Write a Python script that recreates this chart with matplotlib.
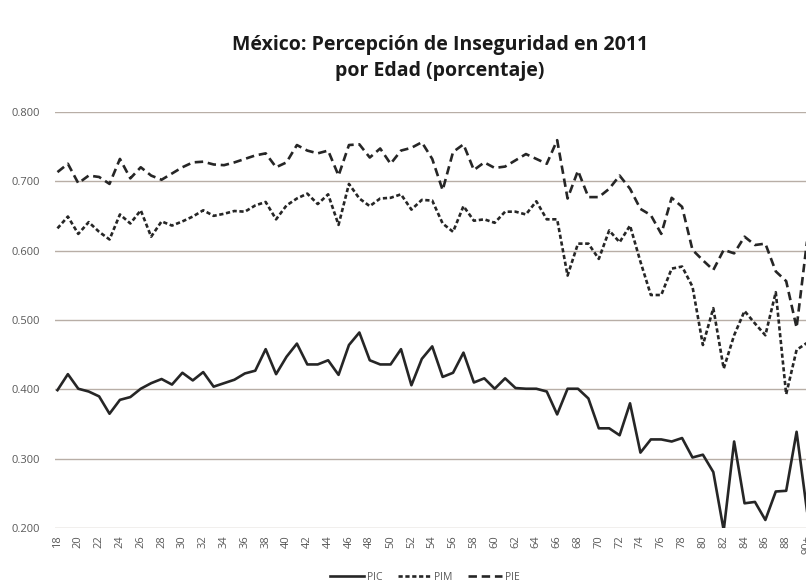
import matplotlib
matplotlib.use('Agg')
import matplotlib.pyplot as plt
import numpy as np

# Edades 18 .. 89 y "90+"
edades = [str(e) for e in range(18, 90)] + ['90+']

pic = [0.399, 0.422, 0.401, 0.397, 0.390, 0.365, 0.385, 0.389, 0.401, 0.409,
       0.415, 0.407, 0.424, 0.413, 0.425, 0.404, 0.409, 0.414, 0.423, 0.427,
       0.458, 0.422, 0.447, 0.466, 0.436, 0.436, 0.442, 0.421, 0.464, 0.482,
       0.442, 0.436, 0.436, 0.458, 0.406, 0.444, 0.462, 0.418, 0.424, 0.453,
       0.410, 0.416, 0.401, 0.416, 0.402, 0.401, 0.401, 0.397, 0.364, 0.401,
       0.401, 0.387, 0.344, 0.344, 0.334, 0.380, 0.309, 0.328, 0.328, 0.325,
       0.330, 0.302, 0.306, 0.281, 0.197, 0.325, 0.236, 0.238, 0.212, 0.253,
       0.254, 0.339, 0.225]

pim = [0.632, 0.649, 0.624, 0.641, 0.627, 0.616, 0.652, 0.639, 0.658, 0.620,
       0.642, 0.636, 0.642, 0.649, 0.658, 0.650, 0.653, 0.657, 0.656, 0.665,
       0.670, 0.645, 0.665, 0.675, 0.682, 0.667, 0.681, 0.637, 0.696, 0.675,
       0.664, 0.675, 0.676, 0.681, 0.659, 0.673, 0.672, 0.639, 0.627, 0.664,
       0.643, 0.645, 0.640, 0.656, 0.656, 0.652, 0.671, 0.645, 0.645, 0.564,
       0.610, 0.610, 0.588, 0.629, 0.612, 0.636, 0.584, 0.536, 0.536, 0.574,
       0.577, 0.548, 0.464, 0.517, 0.430, 0.478, 0.513, 0.495, 0.478, 0.540,
       0.393, 0.457, 0.467]

pie = [0.713, 0.725, 0.697, 0.708, 0.706, 0.696, 0.732, 0.704, 0.720, 0.708,
       0.702, 0.711, 0.720, 0.727, 0.728, 0.724, 0.723, 0.727, 0.732, 0.737,
       0.740, 0.720, 0.727, 0.752, 0.744, 0.740, 0.744, 0.708, 0.752, 0.753,
       0.734, 0.747, 0.725, 0.744, 0.748, 0.756, 0.732, 0.687, 0.742, 0.753,
       0.716, 0.727, 0.719, 0.721, 0.730, 0.739, 0.732, 0.725, 0.759, 0.675,
       0.715, 0.677, 0.677, 0.689, 0.708, 0.689, 0.660, 0.651, 0.624, 0.676,
       0.663, 0.601, 0.586, 0.572, 0.601, 0.596, 0.620, 0.608, 0.610, 0.570,
       0.556, 0.489, 0.613]

yticks = [0.2, 0.3, 0.4, 0.5, 0.6, 0.7, 0.8]

plt.rcParams['font.family'] = ['Open Sans', 'DejaVu Sans']

fig = plt.figure(figsize=(8.06, 5.87), dpi=100)
# el grafico original esta recortado a la derecha
ax = fig.add_axes([0.0682, 0.1, 0.9395, 0.7097])

x = np.arange(len(edades))
linea = '#262626'
ax.plot(x, pic, color=linea, lw=1.9, label='PIC')
ax.plot(x, pim, color=linea, lw=1.9, ls=(0, (1.6, 1.0)), label='PIM')
ax.plot(x, pie, color=linea, lw=1.9, ls=(0, (3.2, 1.8)), label='PIE')

ax.set_xlim(-0.24, 72.5)
ax.set_ylim(0.2, 0.8)
ax.set_yticks(yticks)
ax.set_yticklabels(['%.3f' % v for v in yticks])
ax.set_xticks(x[::2])
ax.set_xticklabels(edades[::2], rotation=90)
ax.tick_params(axis='both', length=0, labelsize=8, labelcolor='#595959')
ax.tick_params(axis='y', pad=11)
ax.tick_params(axis='x', pad=5)
ax.grid(axis='y', color='#b8aea6', lw=1.0)
ax.set_axisbelow(True)
for s in ax.spines.values():
    s.set_visible(False)

fig.text(440 / 806, 1 - 45 / 587, u'México: Percepción de Inseguridad en 2011',
         ha='center', va='center', fontsize=14, fontweight='bold', color='#1a1a1a')
fig.text(440 / 806, 1 - 71 / 587, 'por Edad (porcentaje)',
         ha='center', va='center', fontsize=14, fontweight='bold', color='#1a1a1a')

fig.legend(loc='center', bbox_to_anchor=(425 / 806, 1 - 577 / 587), ncol=3,
           frameon=False, fontsize=7.5, handlelength=3.2, handletextpad=0.3,
           columnspacing=1.5, labelcolor='#595959')

fig.savefig('out.png', dpi=100, facecolor='white')
